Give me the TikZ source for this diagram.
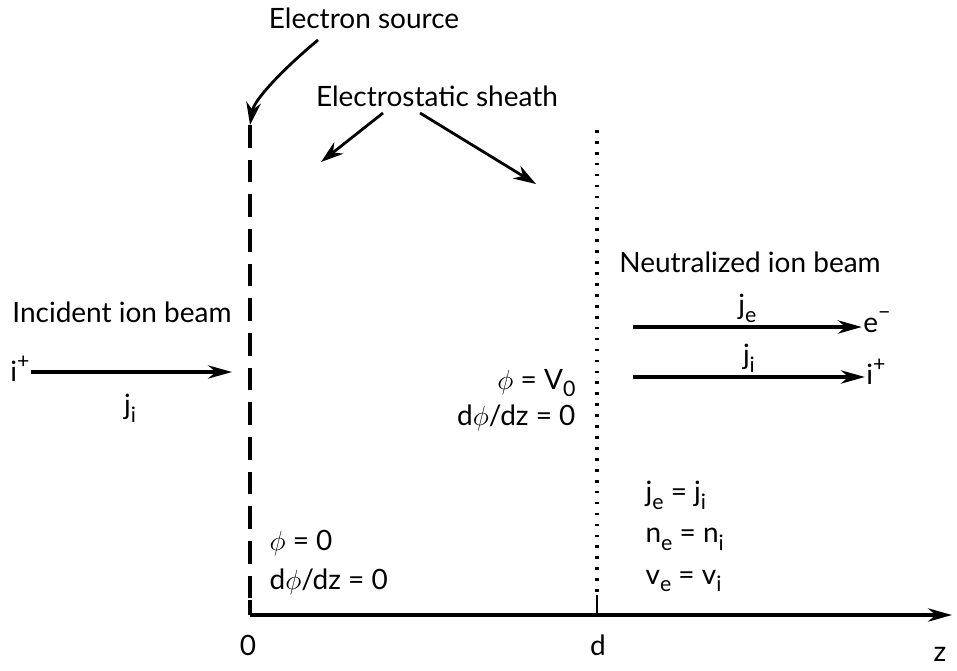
\documentclass[tikz,border=0pt]{standalone}
\usepackage{fontspec}
\setmainfont{Lato}
\usetikzlibrary{arrows.meta,positioning}
\newcommand\lowidx[1]{\raisebox{-0.28em}{\fontsize{16}{18}\selectfont #1}}
\newcommand\upidx[1]{\raisebox{0.45em}{\fontsize{16}{18}\selectfont #1}}

\begin{document}
\begin{tikzpicture}[x=0.75pt,y=-0.75pt,
  lbl/.style={font=\fontsize{21}{25}\selectfont,inner sep=1pt},
  eqn/.style={lbl,anchor=west,align=left},
  beam/.style={line width=2.5pt,-{Stealth[length=18pt,width=10pt]}},
  pointer/.style={line width=2.1pt,-{Stealth[length=17pt,width=11pt]}},
]
  \useasboundingbox (0,0) rectangle (957,671);
  % walls and z axis
  \coordinate (wall0) at (250,125);
  \coordinate (wall0b) at (250,600);
  \coordinate (orig) at (250,615);
  \coordinate (walld) at (597,130);
  \coordinate (walldb) at (597,595);
  \coordinate (dpos) at (597,615);
  \coordinate (zend) at (952,615);
  \draw[line width=2.5pt,dash pattern=on 17pt off 9pt] (wall0) -- (wall0b);
  \draw[line width=2.5pt] (wall0b) -- (orig);
  \draw[line width=2.8pt,dash pattern=on 2pt off 6.2pt] (walld) -- (walldb);
  \draw[line width=2pt] (walldb) -- (dpos);
  \draw[beam] (orig) -- (zend);
  \node[lbl] (lab0) at (248,645) {0};
  \node[lbl] (labd) at (598,645) {d};
  \node[lbl] (labz) at (940,654) {z};
  % labels with pointers
  \node[lbl] (src) at (364,18) {Electron source};
  \coordinate (srcout) at (318,40);
  \draw[pointer] (srcout) .. controls (282,70) and (254,100) .. (wall0);
  \node[lbl] (sheath) at (437,96) {Electrostatic sheath};
  \coordinate (shL) at (383,113);
  \coordinate (shR) at (420,113);
  \coordinate (shLend) at (321,162);
  \coordinate (shRend) at (536,184);
  \draw[pointer] (shL) -- (shLend);
  \draw[pointer] (shR) -- (shRend);
  % incident beam
  \node[lbl] (incident) at (122,312) {Incident ion beam};
  \node[lbl] (ipin) at (20,369) {i\upidx{+}};
  \coordinate (ipend) at (232,372);
  \draw[beam] (ipin.east |- ipend) -- (ipend);
  \node[lbl] (jin) at (130,408) {j\lowidx{i}};
  % neutralized beam
  \node[lbl] (neut) at (750,262) {Neutralized ion beam};
  \coordinate (jestart) at (633,327);
  \coordinate (jistart) at (633,377);
  \node[lbl] (eout) at (877,322) {e\upidx{−}};
  \node[lbl] (iout) at (876,372) {i\upidx{+}};
  \draw[beam] (jestart) -- (eout.west |- jestart) node[midway,above=1pt,lbl] (jeout) {j\lowidx{e}};
  \draw[beam] (jistart) -- (iout.west |- jistart) node[midway,above=1pt,lbl] (jiout) {j\lowidx{i}};
  % conditions
  \node[lbl,anchor=east] (phiv) at (577,383) {$\phi$ = V\lowidx{0}};
  \node[lbl,anchor=east] (dphid) at (577,418) {d$\phi$/dz = 0};
  \node[eqn] (jeji) at (644,495) {j\lowidx{e} = j\lowidx{i}};
  \node[eqn] (neni) at (644,539) {n\lowidx{e} = n\lowidx{i}};
  \node[eqn] (veni) at (644,581) {v\lowidx{e} = v\lowidx{i}};
  \node[eqn] (phi0) at (268,543) {$\phi$ = 0};
  \node[eqn] (dphi0) at (268,582) {d$\phi$/dz = 0};
\end{tikzpicture}
\end{document}
